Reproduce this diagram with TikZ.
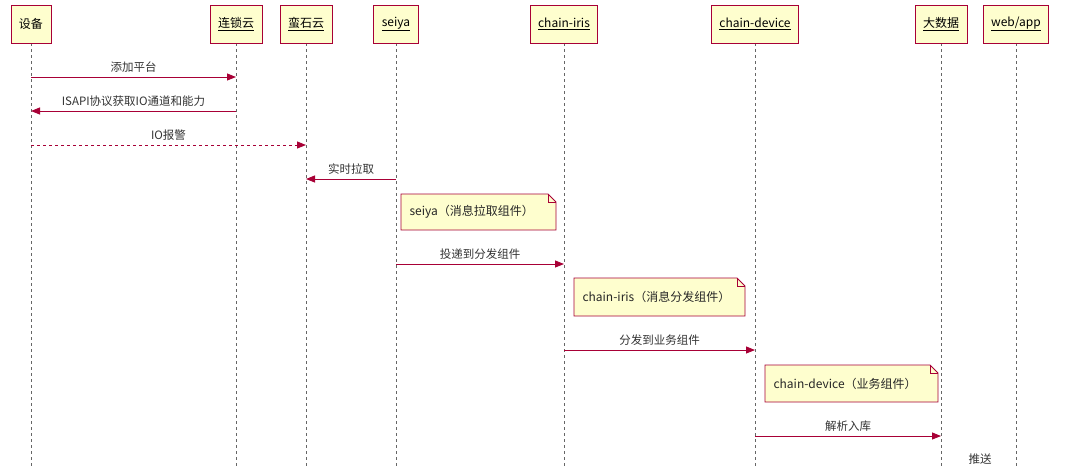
\documentclass[tikz,border=0pt]{standalone}
\usepackage{fontspec}
\setmainfont{Noto Sans CJK SC}
\usetikzlibrary{arrows.meta}
\definecolor{bd}{HTML}{A80036}
\definecolor{fl}{HTML}{FEFECE}
\tikzset{x=1pt,y=-1pt,
 hd/.style={draw=bd,fill=fl,line width=0.9pt,minimum height=38pt,inner xsep=8pt,font=\fontsize{12}{14}\selectfont},
 life/.style={gray!80!black,dashed,line width=0.8pt},
 msg/.style={bd,line width=0.9pt,-{Triangle[length=9pt,width=7pt]}},
 lbl/.style={font=\fontsize{11.5}{13}\selectfont,text=black!80},
 nt/.style={font=\fontsize{12}{14}\selectfont,text=black!85}}
\newcommand{\notebox}[5]{% x1 y1 x2 y2 text
 \fill[fl] (#1,#2) -- (#3-8,#2) -- (#3,#2+8) -- (#3,#4) -- (#1,#4) -- cycle;
 \draw[bd,line width=0.8pt] (#1,#2) -- (#3-8,#2) -- (#3,#2+8) -- (#3,#4) -- (#1,#4) -- cycle;
 \draw[bd,line width=0.8pt] (#3-8,#2) -- (#3-8,#2+8) -- (#3,#2+8);
 \node[nt,anchor=west] at (#1+5,{(#2+#4)/2}) {#5};}
\begin{document}
\begin{tikzpicture}
\useasboundingbox (0,0) rectangle (1066,467);
\fill[white] (0,0) rectangle (1066,467);
\foreach \n/\x/\t in {a/31/设备,b/236/\underline{连锁云},c/306/\underline{蛮石云},d/396/\underline{seiya},e/564/\underline{chain-iris},f/755/\underline{chain-device},g/941/\underline{大数据},h/1016/\underline{web/app}}{
 \coordinate (\n b) at (\x,467);
 \draw[life] (\x,43) -- (\n b);
 \node[hd] (\n) at (\x,24) {\t};
}
\coordinate (a1) at (31,77); \coordinate (b1) at (236,77);
\draw[msg] (a1) -- node[lbl,above=1pt]{添加平台} (b1);
\coordinate (a2) at (31,111); \coordinate (b2) at (236,111);
\draw[msg] (b2) -- node[lbl,above=1pt]{ISAPI协议获取IO通道和能力} (a2);
\coordinate (a3) at (31,145); \coordinate (c3) at (306,145);
\draw[msg,dashed] (a3) -- node[lbl,above=1pt]{IO报警} (c3);
\coordinate (c4) at (306,179); \coordinate (d4) at (396,179);
\draw[msg] (d4) -- node[lbl,above=1pt]{实时拉取} (c4);
\notebox{401}{194}{556}{230}{seiya（消息拉取组件）}
\coordinate (d5) at (396,264); \coordinate (e5) at (564,264);
\draw[msg] (d5) -- node[lbl,above=1pt]{投递到分发组件} (e5);
\notebox{574}{278}{745}{316}{chain-iris（消息分发组件）}
\coordinate (e6) at (564,350); \coordinate (f6) at (755,350);
\draw[msg] (e6) -- node[lbl,above=1pt]{分发到业务组件} (f6);
\notebox{765}{365}{938}{402}{chain-device（业务组件）}
\coordinate (f7) at (755,436); \coordinate (g7) at (941,436);
\draw[msg] (f7) -- node[lbl,above=1pt]{解析入库} (g7);
\node[lbl] (ts) at (980,459) {推送};
\end{tikzpicture}
\end{document}
